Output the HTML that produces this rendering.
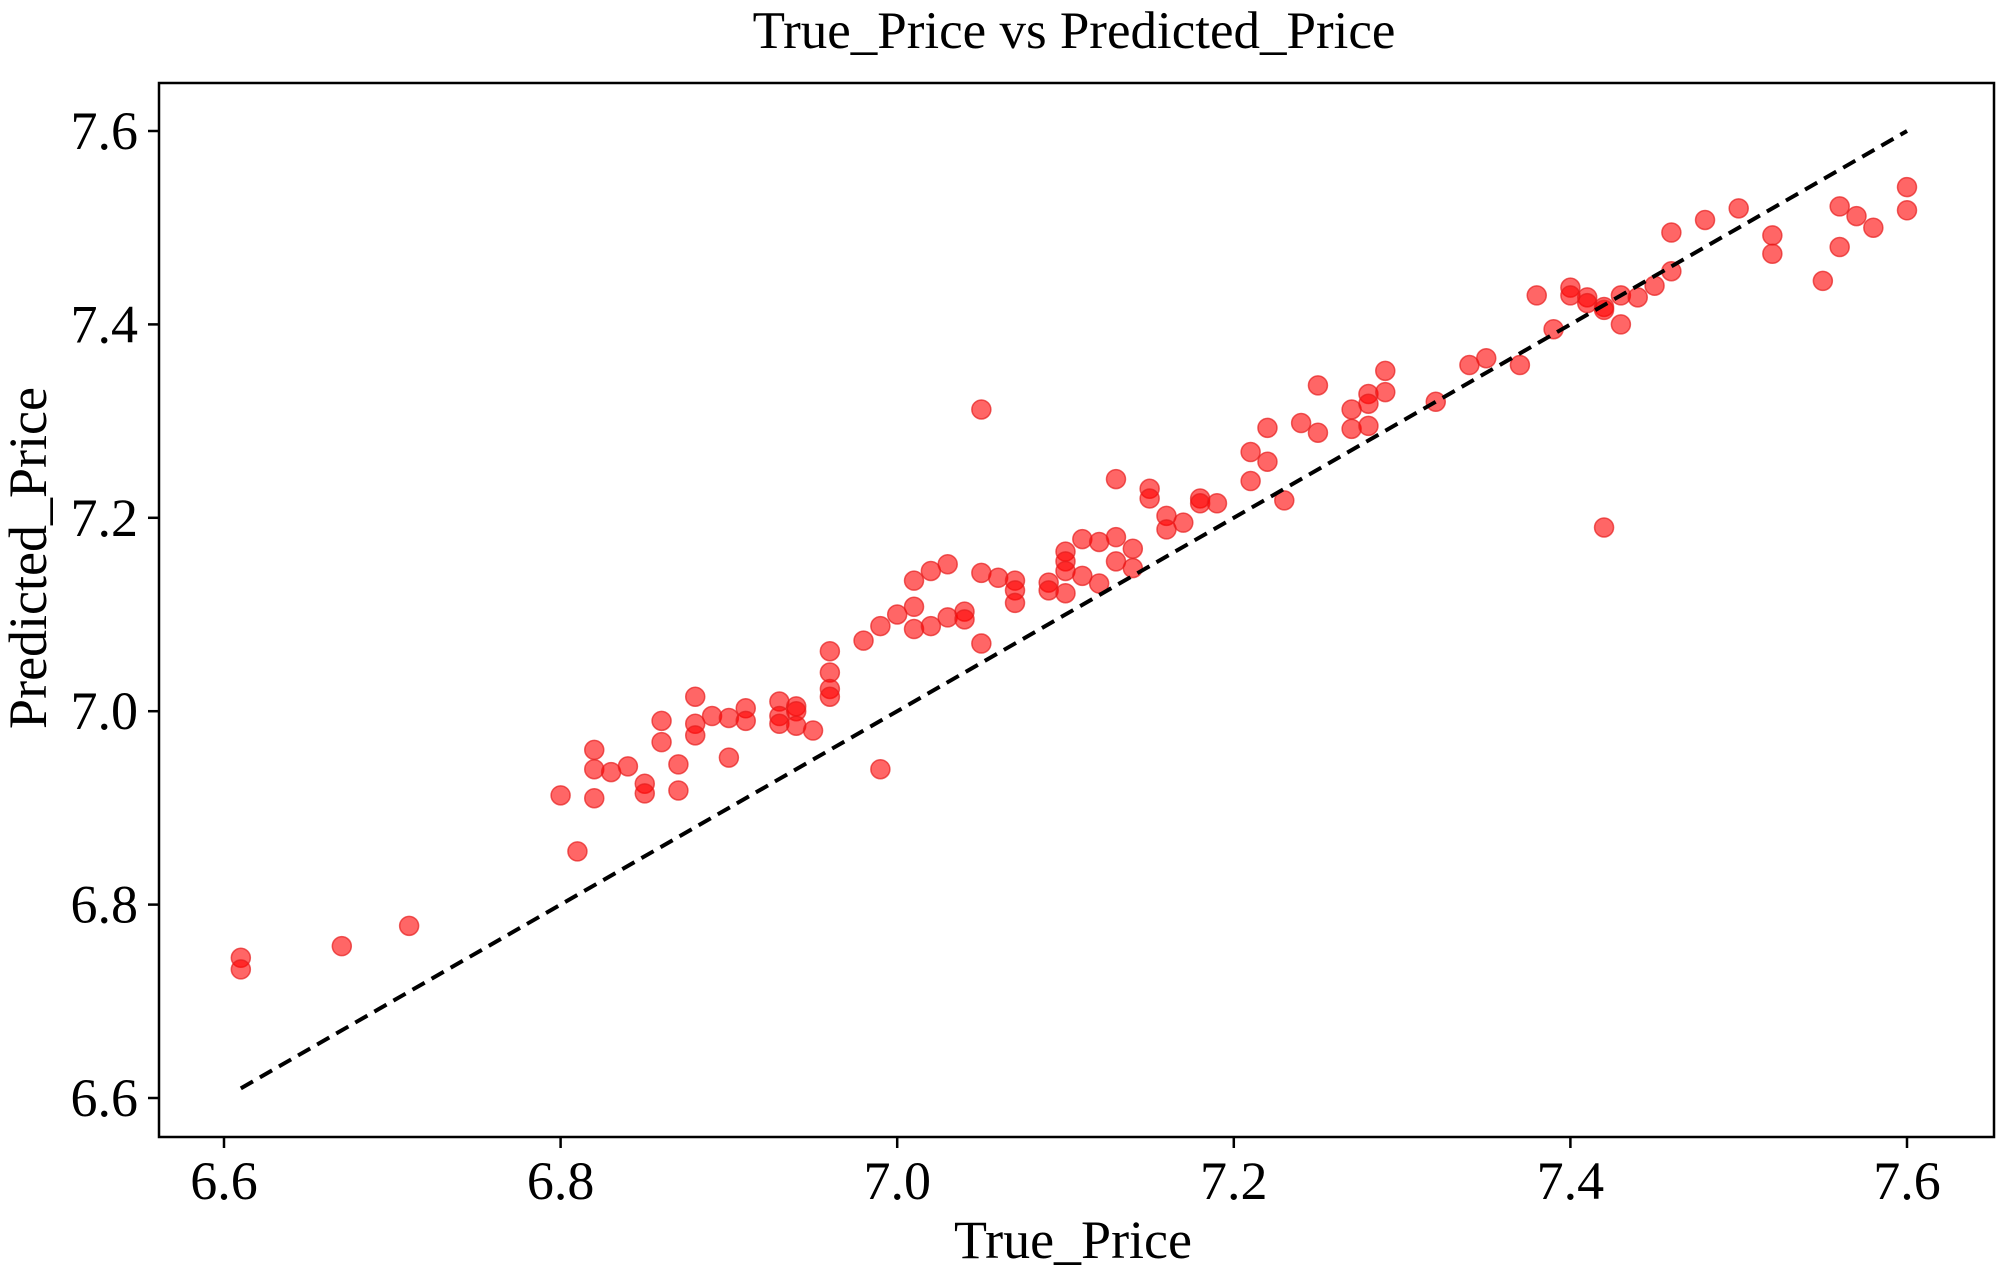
<!DOCTYPE html>
<html><head><meta charset="utf-8"><style>
html,body{margin:0;padding:0;background:#fff}
svg{display:block}
text{font-family:"Liberation Serif",serif;fill:#000}
</style></head><body>
<svg id="chart" width="2000" height="1283">
<rect x="0" y="0" width="2000" height="1283" fill="#fff"/>
<text x="1074" y="48" font-size="53" text-anchor="middle">True_Price vs Predicted_Price</text>
<text x="1073" y="1258" font-size="54" text-anchor="middle">True_Price</text>
<text transform="translate(46,558) rotate(-90)" font-size="54" text-anchor="middle">Predicted_Price</text>
<g id="ticks"></g>
<g id="marks"></g>
<rect x="159" y="83" width="1835" height="1054" fill="none" stroke="#000" stroke-width="2.5"/>
</svg>
<script>
const xTicks=[6.6,6.8,7.0,7.2,7.4,7.6];
const yTicks=[6.6,6.8,7.0,7.2,7.4,7.6];
const tickLabels=["6.6","6.8","7.0","7.2","7.4","7.6"];
const lineX=[6.61,7.6];
const lineY=[6.61,7.6];
const trueX=[6.61,6.61,6.67,6.71,6.80,6.81,6.82,6.82,6.82,6.83,6.84,6.85,6.85,6.86,6.86,6.87,6.87,6.88,6.88,6.88,6.89,6.90,6.90,6.91,6.91,6.93,6.93,6.93,6.94,6.94,6.94,6.95,6.96,6.96,6.96,6.96,6.98,6.99,6.99,7.00,7.01,7.01,7.01,7.02,7.02,7.03,7.03,7.04,7.04,7.05,7.05,7.05,7.06,7.07,7.07,7.07,7.09,7.09,7.10,7.10,7.10,7.10,7.11,7.11,7.12,7.12,7.13,7.13,7.13,7.14,7.14,7.15,7.15,7.16,7.16,7.17,7.18,7.18,7.19,7.21,7.21,7.22,7.22,7.23,7.24,7.25,7.25,7.27,7.27,7.28,7.28,7.28,7.29,7.29,7.32,7.34,7.35,7.37,7.38,7.39,7.40,7.40,7.41,7.41,7.42,7.42,7.42,7.43,7.43,7.44,7.45,7.46,7.46,7.48,7.50,7.52,7.52,7.55,7.56,7.56,7.57,7.58,7.60,7.60];
const predY=[6.745,6.733,6.757,6.778,6.913,6.855,6.96,6.94,6.91,6.937,6.943,6.925,6.915,6.99,6.968,6.945,6.918,7.015,6.987,6.975,6.995,6.993,6.952,7.003,6.99,7.01,6.995,6.987,7.005,7.0,6.985,6.98,7.062,7.04,7.023,7.015,7.073,7.088,6.94,7.1,7.135,7.108,7.085,7.145,7.088,7.152,7.097,7.103,7.095,7.312,7.143,7.07,7.138,7.135,7.125,7.112,7.133,7.125,7.165,7.155,7.145,7.122,7.178,7.14,7.175,7.132,7.24,7.18,7.155,7.168,7.148,7.23,7.22,7.202,7.188,7.195,7.22,7.215,7.215,7.268,7.238,7.293,7.258,7.218,7.298,7.337,7.288,7.312,7.292,7.328,7.318,7.295,7.352,7.33,7.32,7.358,7.365,7.358,7.43,7.395,7.438,7.43,7.428,7.422,7.418,7.415,7.19,7.43,7.4,7.428,7.44,7.495,7.455,7.508,7.52,7.492,7.473,7.445,7.522,7.48,7.512,7.5,7.542,7.518];
const NS="http://www.w3.org/2000/svg";
const sx=v=>224+(v-6.6)*1683;
const sy=v=>1098-(v-6.6)*967;
const ticks=document.getElementById('ticks');
const marks=document.getElementById('marks');
function mk(tag,attrs,parent){const e=document.createElementNS(NS,tag);for(const k in attrs)e.setAttribute(k,attrs[k]);parent.appendChild(e);return e;}
xTicks.forEach((v,i)=>{
  const l=mk('line',{x1:sx(v),x2:sx(v),y1:1137,y2:1148,stroke:'#000','stroke-width':2.5},ticks);
  
  
  const t=mk('text',{x:sx(v),y:1199,'font-size':54,'text-anchor':'middle'},ticks);
  t.textContent=tickLabels[i];
  
  
});
yTicks.forEach((v,i)=>{
  const l=mk('line',{x1:148,x2:159,y1:sy(v),y2:sy(v),stroke:'#000','stroke-width':2.5},ticks);
  
  
  const t=mk('text',{x:138,y:sy(v)+18,'font-size':54,'text-anchor':'end'},ticks);
  t.textContent=tickLabels[i];
  
  
});
trueX.forEach((v,i)=>{
  const c=mk('circle',{cx:sx(v),cy:sy(predY[i]),r:9.5,fill:'rgba(255,0,0,0.6)',stroke:'rgba(230,30,30,0.7)','stroke-width':1.5},marks);
  
  
});
const ln=mk('line',{x1:sx(lineX[0]),y1:sy(lineY[0]),x2:sx(lineX[1]),y2:sy(lineY[1]),stroke:'#000','stroke-width':4,'stroke-dasharray':'14,8'},marks);


</script>
</body></html>
